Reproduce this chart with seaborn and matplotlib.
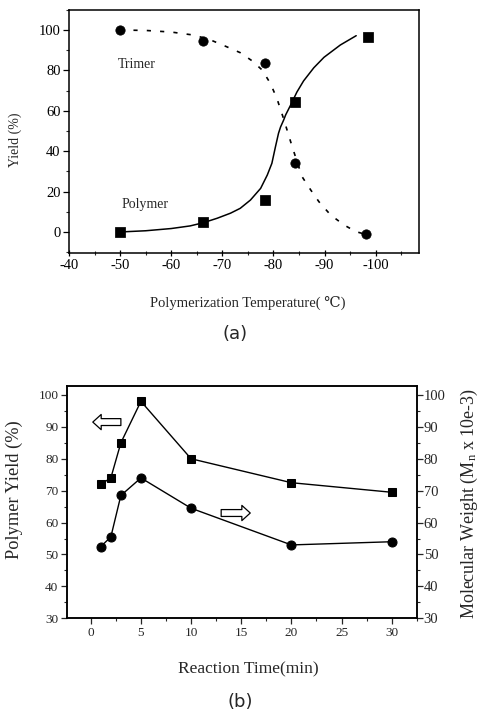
import numpy as np
import pandas as pd
import matplotlib
matplotlib.use("Agg")
import matplotlib.pyplot as plt
from matplotlib.ticker import MultipleLocator
import seaborn as sns

# ---- Data (a) ----
temp_trimer = [-50, -66.3, -78.4, -84.2, -98.2]
yield_trimer = [100, 94.7, 83.5, 34.3, -1.2]
temp_polymer = [-50, -66.3, -78.4, -84.3, -98.5]
yield_polymer = [0, 4.8, 15.7, 64.2, 96.7]
# fitted curves as drawn in the figure
curve_poly_x = [-50, -55, -60, -63.7, -66.3, -69, -71.6, -73.5, -75.5, -77.5, -78.8,
                -79.7, -80.4, -81.0, -81.4, -82.0, -82.4, -83.3, -84.6, -85.9, -87.9,
                -89.9, -93.1, -96.2]
curve_poly_y = [0, 0.6, 1.7, 3, 4.6, 6.8, 9.3, 11.7, 15.8, 21.6, 28.2,
                34, 42.2, 48.9, 52, 55.4, 58, 62.5, 69.3, 74.8, 81.3,
                86.5, 92.6, 97.2]
curve_tri_x = [-50, -55, -60, -64.4, -67.5, -70.6, -73.5, -75.8, -77.8, -79.4, -80.7,
               -82, -83.7, -85.6, -87.3, -88.9, -91.2, -93.8, -96.1, -97.5]
curve_tri_y = [100, 99.8, 99, 97.5, 95.3, 92, 88.8, 84.8, 80.2, 73.6, 66,
               56, 42, 27.4, 20.8, 15, 8.4, 3.5, 0.2, -0.8]
xticks_a = [-40, -50, -60, -70, -80, -90, -100]
yticks_a = [0, 20, 40, 60, 80, 100]

# ---- Data (b) ----
time_min = [1, 2, 3, 5, 10, 20, 30]
polymer_yield = [72, 74, 85, 98, 80, 72.5, 69.5]
mol_weight = [52.5, 55.5, 68.5, 74, 64.5, 53, 54]
xticks_b = [0, 5, 10, 15, 20, 25, 30]
yticks_b = [30, 40, 50, 60, 70, 80, 90, 100]

sns.set_style("ticks")
plt.rcParams["font.family"] = ["Liberation Serif", "DejaVu Serif"]
plt.rcParams["mathtext.fontset"] = "custom"
plt.rcParams["mathtext.rm"] = "Liberation Serif"
plt.rcParams["mathtext.it"] = "Liberation Serif:italic"

fig = plt.figure(figsize=(4.81, 7.13), dpi=100)

# ================= (a) =================
axa = fig.add_axes([0.1435, 0.6452, 0.7277, 0.341])
df_ct = pd.DataFrame({"x": curve_tri_x, "y": curve_tri_y})
df_cp = pd.DataFrame({"x": curve_poly_x, "y": curve_poly_y})
sns.lineplot(data=df_ct, x="x", y="y", ax=axa, color="black", lw=1.2,
             linestyle=(0, (2.5, 5.5)), sort=False, estimator=None)
sns.lineplot(data=df_cp, x="x", y="y", ax=axa, color="black", lw=1.1,
             sort=False, estimator=None)
df_t = pd.DataFrame({"x": temp_trimer, "y": yield_trimer})
df_p = pd.DataFrame({"x": temp_polymer, "y": yield_polymer})
sns.scatterplot(data=df_t, x="x", y="y", ax=axa, marker="o", s=45,
                color="black", edgecolor="black", zorder=3)
sns.scatterplot(data=df_p, x="x", y="y", ax=axa, marker="s", s=45,
                color="black", edgecolor="black", zorder=3)
axa.set_xlim(-40, -108.5)
axa.set_ylim(-10.4, 110)
axa.set_xticks(xticks_a)
axa.set_xticklabels([str(v) for v in xticks_a])
axa.set_yticks(yticks_a)
axa.xaxis.set_minor_locator(MultipleLocator(5))
axa.yaxis.set_minor_locator(MultipleLocator(10))
axa.tick_params(axis="both", which="major", labelsize=10.5, length=4, width=0.9,
                direction="out", colors="black", pad=2)
axa.tick_params(axis="both", which="minor", length=2.5, width=0.8, direction="out")
axa.tick_params(axis="x", which="both", direction="inout")
for s in axa.spines.values():
    s.set_visible(True)
    s.set_linewidth(1.1)
    s.set_color("black")
axa.set_xlabel("")
axa.set_ylabel("")
axa.text(-49.6, 83, "Trimer", fontsize=10, ha="left", va="center")
axa.text(-50.2, 13.4, "Polymer", fontsize=10, ha="left", va="center")

fig.text(15 / 481, 1 - 140 / 713, "Yield (%)", rotation=90, ha="center",
         va="center", fontsize=10)
fig.text(248 / 481, 1 - 303 / 713, "Polymerization Temperature( \u2103)",
         ha="center", va="center", fontsize=10.5)
fig.text(235 / 481, 1 - 334 / 713, "(a)", ha="center", va="center",
         fontsize=13, family=["DejaVu Sans"])

# ================= (b) =================
axb = fig.add_axes([0.1387, 0.1328, 0.7277, 0.3258])
axr = axb.twinx()
df_y = pd.DataFrame({"t": time_min, "v": polymer_yield})
df_m = pd.DataFrame({"t": time_min, "v": mol_weight})
sns.lineplot(data=df_y, x="t", y="v", ax=axb, color="black", lw=1.0,
             marker="s", markersize=5.5, markeredgecolor="black", estimator=None)
sns.lineplot(data=df_m, x="t", y="v", ax=axr, color="black", lw=1.0,
             marker="o", markersize=6.5, markeredgecolor="black", estimator=None)
for ax in (axb, axr):
    ax.set_ylim(30, 102.8)
    ax.set_yticks(yticks_b)
    ax.yaxis.set_minor_locator(MultipleLocator(5))
    ax.set_xlabel("")
    ax.set_ylabel("")
axb.set_xlim(-2.4, 32.5)
axb.set_xticks(xticks_b)
axb.xaxis.set_minor_locator(MultipleLocator(2.5))
axb.tick_params(axis="both", which="major", labelsize=9.5, length=4, width=0.9,
                direction="out", pad=2)
axb.tick_params(axis="both", which="minor", length=2.5, width=0.8, direction="out")
axr.tick_params(axis="y", which="major", labelsize=10.5, length=4, width=0.9,
                direction="out", pad=1)
axr.tick_params(axis="y", which="minor", length=2.5, width=0.8, direction="out")
for ax in (axb, axr):
    for s in ax.spines.values():
        s.set_visible(True)
        s.set_linewidth(1.1)
        s.set_color("black")

arrow_style = "simple,head_length=0.55,head_width=1.0,tail_width=0.45"
axb.annotate("", xy=(0.2, 91.5), xytext=(3.0, 91.5),
             arrowprops=dict(arrowstyle=arrow_style, fc="white", ec="black", lw=0.9,
                             shrinkA=0, shrinkB=0, mutation_scale=11))
axb.annotate("", xy=(15.9, 63), xytext=(13.0, 63),
             arrowprops=dict(arrowstyle=arrow_style, fc="white", ec="black", lw=0.9,
                             shrinkA=0, shrinkB=0, mutation_scale=11))

fig.text(14 / 481, 1 - 490 / 713, "Polymer Yield (%)", rotation=90, ha="center",
         va="center", fontsize=13.2)
fig.text(469 / 481, 1 - 503 / 713, r"Molecular Weight (M$_{\rm n}$ x 10e-3)",
         rotation=90, ha="center", va="center", fontsize=13)
fig.text(248 / 481, 1 - 669 / 713, "Reaction Time(min)", ha="center",
         va="center", fontsize=12.5)
fig.text(240 / 481, 1 - 702 / 713, "(b)", ha="center", va="center",
         fontsize=13, family=["DejaVu Sans"])

fig.savefig("out.png", dpi=100)
